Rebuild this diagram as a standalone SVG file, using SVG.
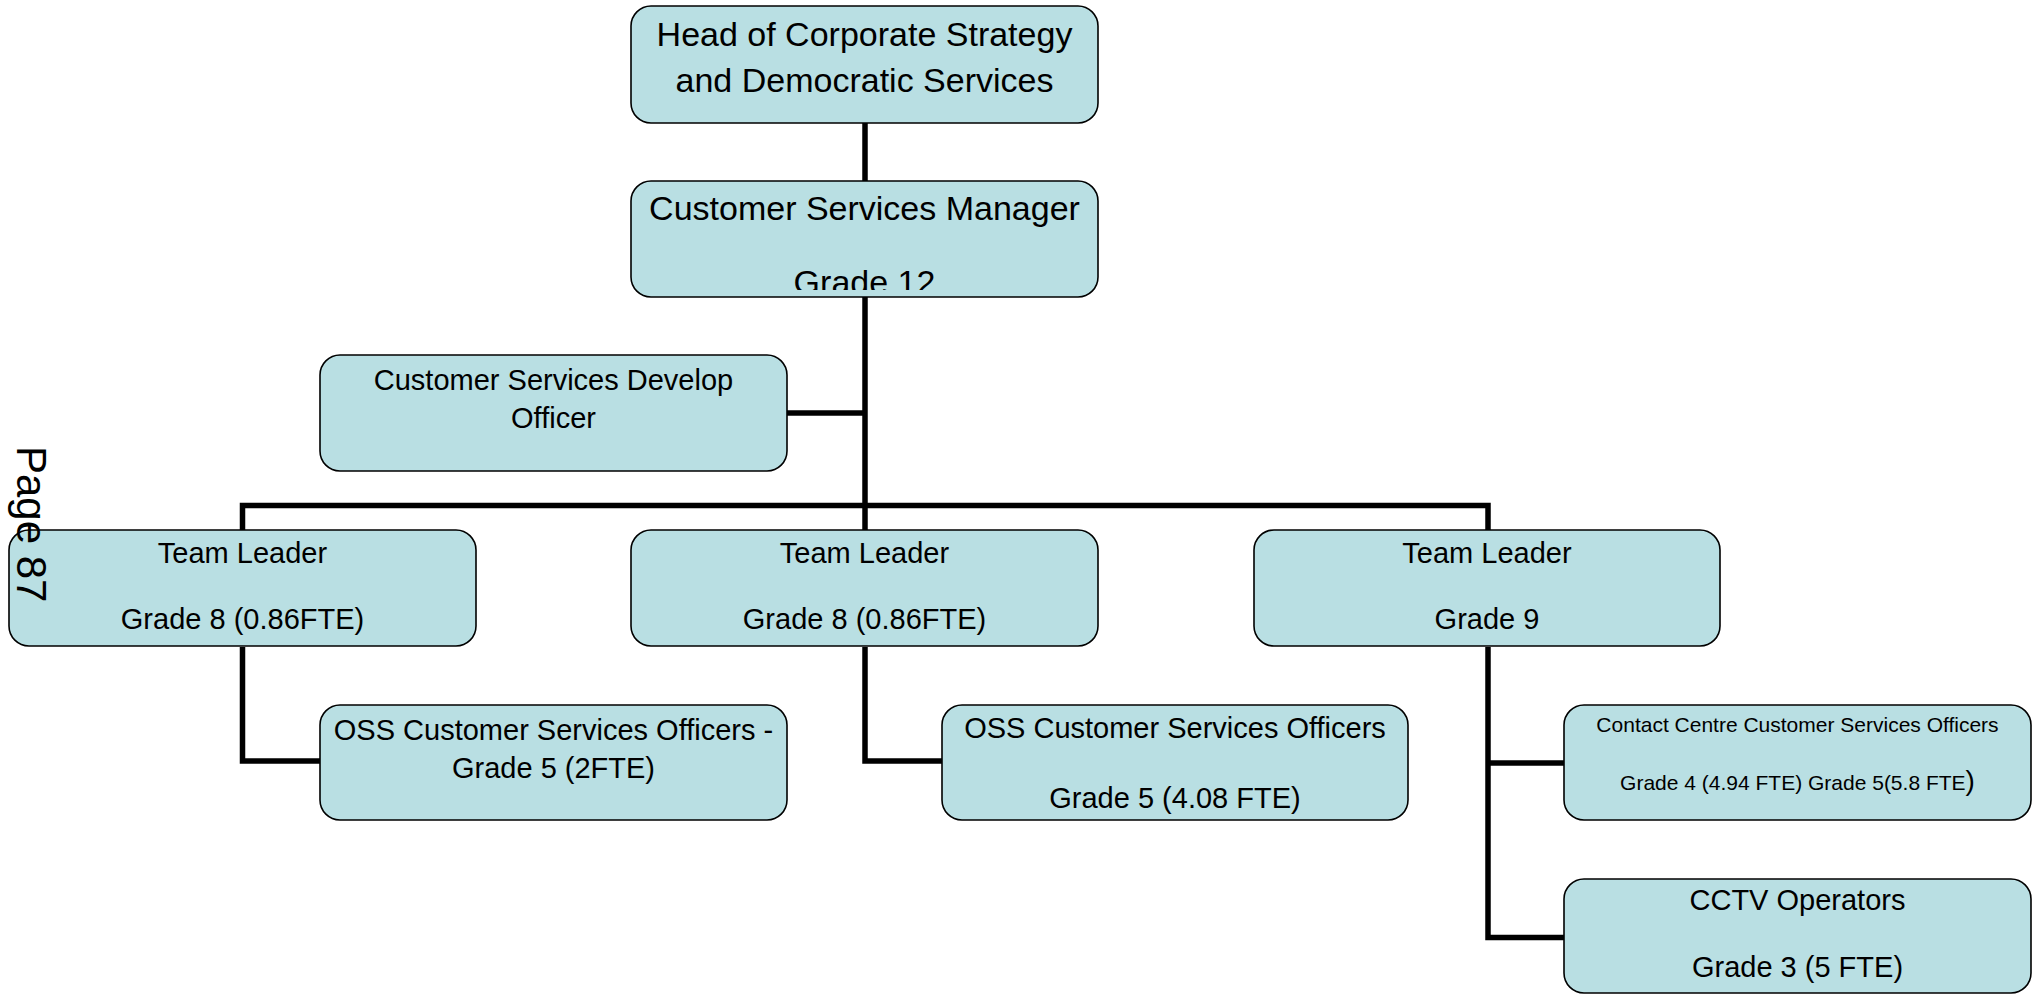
<svg xmlns="http://www.w3.org/2000/svg" width="2035" height="994" viewBox="0 0 2035 994">
<style>
.box{fill:#b9dfe3;stroke:#000;stroke-width:1.6}
.t{font-family:"Liberation Sans",Arial,sans-serif;fill:#000;text-anchor:middle}
.l{font-size:34px}
.m{font-size:29px}
.s{font-size:21px}
.c{fill:none;stroke:#000;stroke-width:5.5;stroke-linecap:butt;stroke-linejoin:miter}
</style>
<defs>
<clipPath id="csmclip"><rect x="631" y="182" width="467" height="108"/></clipPath>
</defs>
<g id="connectors">
<path class="c" d="M865 123V182"/>
<path class="c" d="M865 297V530"/>
<path class="c" d="M786 413H865"/>
<path class="c" d="M242.5 530V505.5H1488V530"/>
<path class="c" d="M242.5 647V761H320"/>
<path class="c" d="M865 647V761H942"/>
<path class="c" d="M1488 647V937.5H1564"/>
<path class="c" d="M1488 763H1564"/>
</g>
<g id="head">
<rect class="box" x="631" y="6" width="467" height="117" rx="20"/>
<text class="t l" x="864.5" y="46">Head of Corporate Strategy</text>
<text class="t l" x="864.5" y="92">and Democratic Services</text>
</g>
<g id="csm">
<rect class="box" x="631" y="181" width="467" height="116" rx="20"/>
<text class="t l" x="864.5" y="220">Customer Services Manager</text>
<text class="t l" x="864.5" y="294" clip-path="url(#csmclip)">Grade 12</text>
</g>
<g id="csdo">
<rect class="box" x="320" y="355" width="467" height="116" rx="20"/>
<text class="t m" x="553.5" y="390">Customer Services Develop</text>
<text class="t m" x="553.5" y="428">Officer</text>
</g>
<g id="tl1">
<rect class="box" x="9" y="530" width="467" height="116" rx="20"/>
<text class="t m" x="242.5" y="563">Team Leader</text>
<text class="t m" x="242.5" y="629">Grade 8 (0.86FTE)</text>
</g>
<g id="tl2">
<rect class="box" x="631" y="530" width="467" height="116" rx="20"/>
<text class="t m" x="864.5" y="563">Team Leader</text>
<text class="t m" x="864.5" y="629">Grade 8 (0.86FTE)</text>
</g>
<g id="tl3">
<rect class="box" x="1254" y="530" width="466" height="116" rx="20"/>
<text class="t m" x="1487" y="563">Team Leader</text>
<text class="t m" x="1487" y="629">Grade 9</text>
</g>
<g id="oss1">
<rect class="box" x="320" y="705" width="467" height="115" rx="20"/>
<text class="t m" x="553.5" y="740">OSS Customer Services Officers -</text>
<text class="t m" x="553.5" y="778">Grade 5 (2FTE)</text>
</g>
<g id="oss2">
<rect class="box" x="942" y="705" width="466" height="115" rx="20"/>
<text class="t m" x="1175" y="738">OSS Customer Services Officers</text>
<text class="t m" x="1175" y="808">Grade 5 (4.08 FTE)</text>
</g>
<g id="contact">
<rect class="box" x="1564" y="705" width="467" height="115" rx="20"/>
<text class="t s" x="1797.5" y="731.5">Contact Centre Customer Services Officers</text>
<text class="t s" x="1797.5" y="790">Grade 4 (4.94 FTE) Grade 5(5.8 FTE<tspan font-size="28px">)</tspan></text>
</g>
<g id="cctv">
<rect class="box" x="1564" y="879" width="467" height="114" rx="20"/>
<text class="t m" x="1797.5" y="910">CCTV Operators</text>
<text class="t m" x="1797.5" y="977">Grade 3 (5 FTE)</text>
</g>
<g id="page">
<text font-family="Liberation Sans,Arial,sans-serif" font-size="42px" fill="#000" transform="translate(17,446) rotate(90)">Page 87</text>
</g>
</svg>
